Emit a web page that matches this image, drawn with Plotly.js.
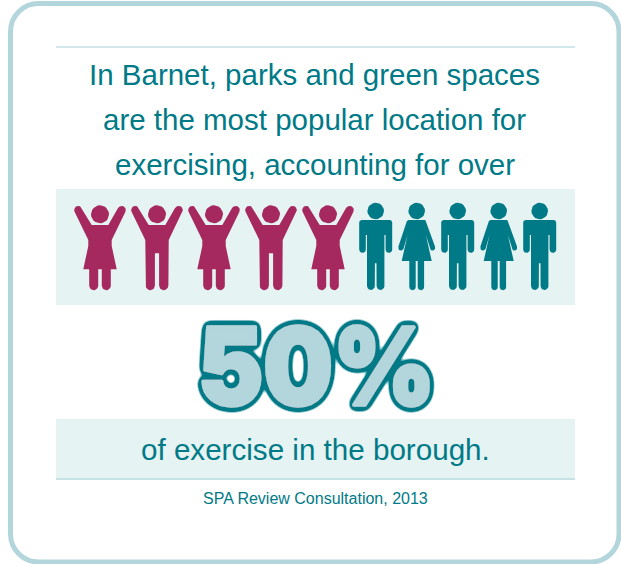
<!DOCTYPE html>
<html>
<head>
<meta charset="utf-8">
<script src="https://cdn.plot.ly/plotly-3.0.1.min.js"></script>
<style>
  html, body { margin: 0; padding: 0; background: #fff; }
  #chart { width: 621px; height: 564px; }
</style>
</head>
<body>
<svg width="0" height="0" style="position:absolute">
  <filter id="numeralOutline" x="-10%" y="-20%" width="120%" height="140%">
    <feGaussianBlur in="SourceAlpha" stdDeviation="3.2"/>
    <feComponentTransfer result="halo"><feFuncA type="linear" slope="12" intercept="-0.6"/></feComponentTransfer>
    <feFlood flood-color="#007a87"/>
    <feComposite in2="halo" operator="in" result="ring"/>
    <feMerge><feMergeNode in="ring"/><feMergeNode in="SourceGraphic"/></feMerge>
  </filter>
</svg>
<div id="chart"></div>
<script>
// Pictogram: one figure per ten percent of exercise, parks and green spaces first.
const headlineLines = [
  'In Barnet, parks and green spaces',
  'are the most popular location for',
  'exercising, accounting for over'
];
const shareLabel = '50%';
const closingLine = 'of exercise in the borough.';
const sourceLine = 'SPA Review Consultation, 2013';

const sharePercent = 50;
const percentPerFigure = 10;
const figureKinds = ['woman', 'man', 'woman', 'man', 'woman', 'man', 'woman', 'man', 'woman', 'man'];

const TEAL = '#007a87';
const MAGENTA = '#a5285e';
const FRAME = '#b3d5dc';
const BAND = '#e5f3f2';

// Horizontal slot centres: raised figures stand wider apart than standing ones.
const slotX = [100, 157, 214, 271, 328, 375.7, 416.7, 457.7, 498.7, 539.7];

function arc(cx, cy, r, from, to) {
  const pts = [];
  const steps = 10;
  for (let i = 0; i <= steps; i++) {
    const a = (from + (to - from) * i / steps) * Math.PI / 180;
    pts.push([cx + r * Math.cos(a), cy + r * Math.sin(a)]);
  }
  return pts;
}

function mirrorRight(half) {
  // half runs from the top centre down the left side; returns the whole loop
  const right = half.slice().reverse().map(p => [-p[0], p[1]]);
  return half.concat(right);
}

const raisedArmLeft = () => [
  [-8.3, 225],
  [-17.9, 208.2],
  ...arc(-21.7, 210, 4.1, -25, -205),
  [-11.7, 240]
];

const outlines = {
  raisedwoman: () => mirrorRight([
    ...raisedArmLeft(),
    [-11.7, 246],
    [-16.7, 269.3],
    [-10.8, 269.3],
    ...arc(-6.3, 285.7, 4.5, 180, 0),
    [-1.8, 269.3]
  ]),
  raisedman: () => mirrorRight([
    ...raisedArmLeft(),
    [-11.4, 286],
    ...arc(-6.7, 285.6, 4.6, 180, 0),
    [-2.1, 253.3]
  ]),
  standingman: () => mirrorRight([
    [-14, 220],
    ...arc(-14, 222.5, 2.5, -90, -180),
    [-16.5, 249.5],
    ...arc(-13.2, 249.5, 3.3, 180, 0),
    [-9.9, 235],
    [-8.7, 235],
    [-8.7, 286],
    ...arc(-4.8, 286, 3.9, 180, 0),
    [-0.8, 263.3]
  ]),
  standingwoman: () => mirrorRight([
    [-8, 220],
    ...arc(-8, 222, 2, -90, -160),
    [-18.3, 246.5],
    ...arc(-15.8, 247.8, 2.8, 155, 20),
    [-9.2, 235],
    [-15, 261],
    [-7.4, 261],
    [-7.4, 287],
    ...arc(-4.2, 287, 3.2, 180, 0),
    [-1, 261]
  ])
};

const headFor = { raised: { y: 214.3, r: 9 }, standing: { y: 211, r: 8.3 } };

// Collect every figure into one filled trace per colour, subpaths split by nulls.
function figureTrace(indices, pose, colour, name) {
  const xs = [], ys = [];
  const { y: headY, r: headR } = headFor[pose];
  indices.forEach(i => {
    const cx = slotX[i];
    const body = outlines[pose + figureKinds[i]]();
    const head = [];
    for (let d = 0; d < 360; d += 15) {
      const a = d * Math.PI / 180;
      head.push([headR * Math.cos(a), headY + headR * Math.sin(a)]);
    }
    [body, head].forEach(poly => {
      poly.forEach(p => { xs.push(cx + p[0]); ys.push(p[1]); });
      xs.push(cx + poly[0][0]); ys.push(poly[0][1]);
      xs.push(null); ys.push(null);
    });
  });
  return {
    type: 'scatter', mode: 'lines', name, x: xs, y: ys,
    fill: 'toself', fillcolor: colour,
    line: { width: 0, color: colour },
    hoverinfo: 'skip', showlegend: false
  };
}

const filledCount = Math.round(sharePercent / percentPerFigure);
const allSlots = figureKinds.map((_, i) => i);
const traces = [
  figureTrace(allSlots.slice(0, filledCount), 'raised', MAGENTA, 'Parks and green spaces'),
  figureTrace(allSlots.slice(filledCount), 'standing', TEAL, 'Elsewhere')
];

const textFamily = '"Liberation Sans", Arial, sans-serif';
const headlineY = [74, 119, 164];
const annotations = headlineLines.map((t, i) => ({
  text: t, x: 314.5, y: headlineY[i], xref: 'x', yref: 'y', showarrow: false,
  xanchor: 'center', yanchor: 'middle',
  font: { family: textFamily, size: 29.5, color: TEAL }
}));
annotations.push({
  text: shareLabel, x: 316, y: 366, xref: 'x', yref: 'y', showarrow: false,
  xanchor: 'center', yanchor: 'middle',
  font: { family: 'Inter, sans-serif', size: 98, color: FRAME, weight: 900 }
});
annotations.push({
  text: closingLine, x: 315, y: 449.5, xref: 'x', yref: 'y', showarrow: false,
  xanchor: 'center', yanchor: 'middle',
  font: { family: textFamily, size: 29.6, color: TEAL }
});
annotations.push({
  text: sourceLine, x: 315, y: 498, xref: 'x', yref: 'y', showarrow: false,
  xanchor: 'center', yanchor: 'middle',
  font: { family: textFamily, size: 16, color: TEAL }
});

const frameRadius = 28;
const k = frameRadius * 0.448;
const [fl, ft, fr, fb] = [10.5, 3.5, 619, 562];
const framePath =
  `M ${fl + frameRadius} ${ft} L ${fr - frameRadius} ${ft} C ${fr - k} ${ft} ${fr} ${ft + k} ${fr} ${ft + frameRadius} ` +
  `L ${fr} ${fb - frameRadius} C ${fr} ${fb - k} ${fr - k} ${fb} ${fr - frameRadius} ${fb} ` +
  `L ${fl + frameRadius} ${fb} C ${fl + k} ${fb} ${fl} ${fb - k} ${fl} ${fb - frameRadius} ` +
  `L ${fl} ${ft + frameRadius} C ${fl} ${ft + k} ${fl + k} ${ft} ${fl + frameRadius} ${ft} Z`;

const shapes = [
  { type: 'path', path: framePath, xref: 'x', yref: 'y', line: { color: FRAME, width: 5 }, layer: 'below' },
  { type: 'line', x0: 56, x1: 575, y0: 47, y1: 47, xref: 'x', yref: 'y', line: { color: '#c5e0e5', width: 1.5 }, layer: 'below' },
  { type: 'rect', x0: 56, x1: 575, y0: 189, y1: 305, xref: 'x', yref: 'y', fillcolor: BAND, line: { width: 0 }, layer: 'below' },
  { type: 'rect', x0: 56, x1: 575, y0: 419, y1: 478, xref: 'x', yref: 'y', fillcolor: BAND, line: { width: 0 }, layer: 'below' },
  { type: 'line', x0: 56, x1: 575, y0: 479, y1: 479, xref: 'x', yref: 'y', line: { color: '#b3d8df', width: 1.5 }, layer: 'below' }
];

const hiddenAxis = { visible: false, showgrid: false, zeroline: false, fixedrange: true };
const layout = {
  width: 621, height: 564,
  margin: { l: 0, r: 0, t: 0, b: 0, pad: 0 },
  paper_bgcolor: '#fff', plot_bgcolor: 'rgba(0,0,0,0)',
  showlegend: false,
  xaxis: { ...hiddenAxis, range: [0, 621] },
  yaxis: { ...hiddenAxis, range: [564, 0] },
  shapes, annotations
};

Plotly.newPlot('chart', traces, layout, { displayModeBar: false, staticPlot: true }).then(gd => {
  // Fatten the big percentage, ring it with the outline filter and stretch it slightly taller.
  gd.querySelectorAll('.annotation-text').forEach(el => {
    if (el.textContent === shareLabel) {
      el.style.stroke = FRAME;
      el.style.strokeWidth = '3px';
      el.style.strokeLinejoin = 'round';
      el.style.filter = 'url(#numeralOutline)';
      el.style.transformBox = 'fill-box';
      el.style.transformOrigin = 'center';
      el.style.transform = 'scaleY(1.09)';
    }
  });
});
</script>
</body>
</html>
